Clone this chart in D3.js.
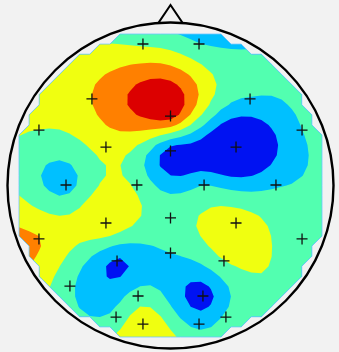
<!DOCTYPE html>
<html>
<head>
<meta charset="utf-8">
<script src="https://cdn.jsdelivr.net/npm/d3@7"></script>
<style>
  html, body { margin: 0; padding: 0; background: #f2f2f2; }
  svg { display: block; }
</style>
</head>
<body>
<svg id="topo" width="339" height="352"></svg>
<script>
// Channel locations, head-relative: radius 1 = head outline, +y toward the nose.
const chanX = [-0.169, 0.175, -0.482, 0.000, 0.488, -0.807, -0.396, 0.000, 0.402, 0.807,
               -0.641, -0.206, 0.206, 0.647, -0.396, 0.000, 0.402, -0.807, 0.807, -0.328,
               0.000, 0.328, -0.617, -0.199, 0.199, -0.334, 0.340, -0.169, 0.175];
const chanY = [0.868, 0.868, 0.531, 0.426, 0.531, 0.340, 0.236, 0.212, 0.236, 0.340,
               0.003, 0.003, 0.003, 0.003, -0.230, -0.199, -0.230, -0.328, -0.328, -0.463,
               -0.414, -0.463, -0.617, -0.678, -0.678, -0.807, -0.807, -0.850, -0.850];
// Potential at each channel
const chanValue = [0.35, -0.47, 1.5, 3.0, -0.55, 0.5, 0.9, -2.0, -3.2, -0.5,
                   -0.9, 0.3, -0.5, -0.6, 1.48, 0.1, 1.05, 1.55, -0.2, -1.7,
                   -0.5, 0.5, -0.3, 0.0, -2.0, -0.2, -0.3, 1.3, -0.8];
// Contour levels and band colours (jet)
const levels = [-1.5, -0.5, 0.5, 1.5, 2.5];
const bandColors = ["#0012f2", "#00c0ff", "#52ffb0", "#f0ff10", "#ff8000", "#dc0000"];

const cx = 170.5, cy = 185.5, headR = 163;
const sx = d3.scaleLinear().domain([-1, 1]).range([cx - headR, cx + headR]);
const sy = d3.scaleLinear().domain([-1, 1]).range([cy + headR, cy - headR]);

// ---- biharmonic spline interpolation (Green's function r^2 (ln r - 1)) ----
const nCh = chanX.length;
const unit = 0.5;
function green(d) { return d > 0 ? d * d * (Math.log(d) - 1) : 0; }
const A = [];
for (let i = 0; i < nCh; i++) {
  const row = [];
  for (let j = 0; j < nCh; j++) {
    row.push(green(Math.hypot(chanX[i] - chanX[j], chanY[i] - chanY[j]) * unit));
  }
  row.push(chanValue[i]);
  A.push(row);
}
// Gaussian elimination with partial pivoting
for (let c = 0; c < nCh; c++) {
  let p = c;
  for (let r = c + 1; r < nCh; r++) if (Math.abs(A[r][c]) > Math.abs(A[p][c])) p = r;
  [A[c], A[p]] = [A[p], A[c]];
  for (let r = c + 1; r < nCh; r++) {
    const f = A[r][c] / A[c][c];
    for (let k = c; k <= nCh; k++) A[r][k] -= f * A[c][k];
  }
}
const weights = new Array(nCh).fill(0);
for (let r = nCh - 1; r >= 0; r--) {
  let s = A[r][nCh];
  for (let k = r + 1; k < nCh; k++) s -= A[r][k] * weights[k];
  weights[r] = s / A[r][r];
}
function interp(x, y) {
  let s = 0;
  for (let i = 0; i < nCh; i++) s += weights[i] * green(Math.hypot(x - chanX[i], y - chanY[i]) * unit);
  return s;
}

// ---- interpolation grid (nodes outside the head are masked) ----
const gridN = 33, gridStep = 0.06196, maskR = 0.99;
const gridExt = gridStep * (gridN - 1) / 2;
const values = new Array(gridN * gridN);
const mask = new Array(gridN * gridN);
for (let r = 0; r < gridN; r++) {
  const y = gridExt - r * gridStep;
  for (let c = 0; c < gridN; c++) {
    const x = -gridExt + c * gridStep;
    values[r * gridN + c] = interp(x, y);
    mask[r * gridN + c] = (x * x + y * y <= maskR * maskR) ? 1 : 0;
  }
}

// grid coordinates -> pixels
const gx = d3.scaleLinear().domain([0.5, gridN - 0.5]).range([sx(-gridExt), sx(gridExt)]);
const gy = d3.scaleLinear().domain([0.5, gridN - 0.5]).range([sy(gridExt), sy(-gridExt)]);
const gridPath = d3.geoPath(d3.geoTransform({
  point(x, y) { this.stream.point(gx(x), gy(y)); }
}));

const svg = d3.select("#topo");
const contourGen = d3.contours().size([gridN, gridN]);
// boundary runs through the outermost valid nodes
const maskShape = contourGen.thresholds([1])(mask)[0];

svg.append("clipPath").attr("id", "scalpClip")
  .append("path").attr("d", gridPath(maskShape));

const map = svg.append("g").attr("clip-path", "url(#scalpClip)");
map.append("path").attr("d", gridPath(maskShape)).attr("fill", bandColors[0]);
const bands = contourGen.thresholds(levels)(values);
map.selectAll("path.band").data(bands).join("path")
  .attr("class", "band")
  .attr("d", gridPath)
  .attr("fill", (d, i) => bandColors[i + 1]);

svg.append("path").attr("d", gridPath(maskShape))
  .attr("fill", "none").attr("stroke", "#6cc4ff").attr("stroke-width", 0.8);

// ---- head outline and nose ----
svg.append("circle").attr("cx", sx(0)).attr("cy", sy(0)).attr("r", sx(1) - sx(0))
  .attr("fill", "none").attr("stroke", "#000").attr("stroke-width", 2.4);
const noseX = [-0.074, 0, 0.074];
const noseY = [0.998, 1.107, 0.998];
svg.append("path")
  .attr("d", d3.line().x(d => sx(noseX[d])).y(d => sy(noseY[d]))([0, 1, 2]))
  .attr("fill", "none").attr("stroke", "#000").attr("stroke-width", 2);

// ---- electrode markers ----
const arm = 5.5;
const marks = svg.append("g").attr("stroke", "#111").attr("stroke-width", 1.3);
marks.selectAll("path").data(d3.range(nCh)).join("path")
  .attr("d", i => {
    const x = sx(chanX[i]), y = sy(chanY[i]);
    return `M${x - arm},${y}H${x + arm}M${x},${y - arm}V${y + arm}`;
  });
</script>
</body>
</html>
